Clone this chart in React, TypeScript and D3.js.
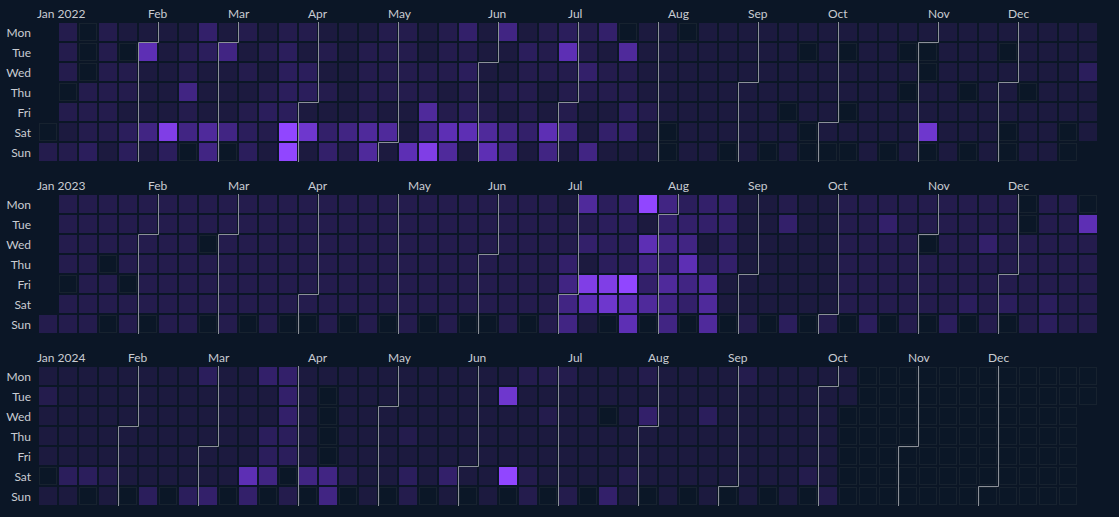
import React from "react";
import * as d3 from "d3";

// daily activity level per week (Mon..Sun), first/last week only hold days inside the year
const weeks2022 = [
  [0, 2],
  [2, 2, 2, 0, 2, 1, 2], [0, 0, 0, 2, 2, 2, 3], [2, 2, 2, 2, 2, 2, 1], [1, 0, 2, 2, 1, 3, 3],
  [1, 7, 1, 1, 1, 5, 1], [1, 1, 1, 1, 1, 9, 3], [1, 2, 2, 5, 2, 5, 0], [4, 3, 1, 1, 1, 6, 5],
  [1, 5, 1, 1, 1, 5, 0], [2, 1, 2, 1, 2, 3, 3], [1, 2, 1, 2, 3, 2, 1], [2, 3, 3, 3, 3, 10, 10],
  [2, 1, 3, 3, 1, 8, 1], [1, 2, 1, 2, 1, 4, 4], [1, 1, 1, 1, 1, 5, 2], [1, 2, 2, 2, 2, 6, 6],
  [2, 2, 2, 2, 1, 6, 1], [2, 2, 2, 2, 1, 1, 7], [1, 1, 2, 2, 6, 5, 9], [2, 2, 2, 1, 2, 7, 6],
  [4, 2, 3, 2, 3, 7, 1], [1, 1, 1, 1, 2, 6, 7], [5, 1, 1, 2, 1, 5, 5], [1, 3, 2, 2, 2, 4, 1],
  [2, 2, 2, 1, 1, 7, 5], [3, 7, 2, 2, 2, 5, 1], [2, 2, 4, 2, 1, 1, 5], [4, 1, 2, 2, 1, 4, 1],
  [0, 6, 2, 2, 3, 4, 1], [1, 1, 1, 1, 2, 1, 1], [1, 1, 1, 1, 1, 0, 0], [0, 1, 1, 1, 1, 1, 1],
  [1, 1, 1, 1, 1, 1, 1], [1, 1, 1, 1, 1, 1, 0], [1, 1, 1, 1, 1, 1, 1], [1, 1, 1, 1, 1, 1, 0],
  [1, 1, 1, 1, 0, 1, 1], [1, 0, 1, 1, 1, 0, 0], [1, 1, 1, 1, 1, 1, 0], [1, 0, 1, 1, 0, 1, 0],
  [1, 1, 1, 1, 1, 1, 1], [1, 1, 1, 1, 1, 1, 0], [1, 0, 1, 0, 1, 1, 1], [1, 0, 0, 1, 1, 8, 0],
  [1, 1, 1, 1, 1, 1, 1], [1, 1, 1, 0, 1, 1, 0], [1, 1, 1, 1, 1, 1, 1], [1, 0, 1, 1, 1, 0, 0],
  [1, 1, 1, 0, 1, 1, 1], [1, 1, 1, 1, 1, 1, 1], [1, 1, 1, 1, 1, 0, 0], [1, 1, 3, 1, 1, 1],
];

const weeks2023 = [
  [2],
  [2, 2, 2, 2, 0, 2, 2], [2, 2, 2, 2, 2, 2, 2], [2, 2, 2, 0, 2, 2, 0], [2, 2, 2, 2, 0, 2, 2],
  [2, 2, 2, 2, 2, 2, 0], [2, 2, 2, 2, 2, 2, 2], [2, 2, 2, 2, 2, 2, 2], [2, 2, 0, 2, 2, 2, 0],
  [2, 2, 2, 2, 2, 2, 2], [2, 2, 2, 2, 2, 2, 0], [2, 2, 2, 2, 2, 2, 2], [2, 2, 2, 2, 2, 2, 0],
  [2, 2, 2, 2, 2, 2, 0], [2, 2, 2, 2, 2, 2, 2], [2, 2, 2, 2, 2, 2, 0], [2, 2, 2, 2, 2, 2, 2],
  [2, 2, 2, 2, 2, 2, 0], [2, 2, 2, 2, 2, 2, 2], [2, 2, 2, 2, 2, 2, 0], [2, 2, 2, 2, 2, 2, 2],
  [2, 2, 2, 2, 2, 2, 0], [2, 2, 2, 2, 2, 2, 0], [2, 2, 2, 2, 2, 2, 2], [2, 2, 2, 2, 2, 2, 0],
  [2, 2, 2, 2, 2, 2, 2], [1, 2, 2, 4, 5, 5, 5], [6, 2, 4, 1, 9, 7, 1], [3, 3, 3, 3, 9, 8, 0],
  [4, 3, 3, 3, 10, 7, 7], [10, 1, 7, 5, 4, 6, 0], [5, 4, 5, 4, 6, 5, 5], [3, 4, 5, 7, 5, 4, 0],
  [4, 4, 1, 3, 6, 6, 6], [4, 4, 3, 4, 1, 1, 0], [1, 1, 1, 1, 1, 1, 2], [1, 1, 1, 1, 1, 1, 0],
  [2, 4, 1, 1, 1, 1, 3], [1, 1, 1, 1, 1, 1, 0], [1, 1, 1, 1, 1, 1, 2], [2, 2, 2, 2, 2, 2, 0],
  [2, 2, 2, 2, 2, 2, 3], [2, 4, 2, 2, 2, 2, 0], [2, 2, 2, 2, 2, 2, 2], [2, 2, 0, 2, 2, 2, 0],
  [2, 2, 2, 2, 2, 2, 3], [2, 2, 2, 2, 2, 3, 0], [2, 2, 4, 2, 2, 2, 2], [2, 2, 2, 2, 2, 3, 0],
  [0, 0, 2, 2, 2, 2, 2], [2, 2, 2, 2, 2, 3, 3], [2, 2, 2, 2, 2, 2, 2], [0, 7, 2, 2, 2, 2, 2],
];

// 2024 data stops on Tue Oct 8
const weeks2024 = [
  [1, 2, 1, 1, 1, 0, 1], [1, 1, 1, 1, 1, 3, 1], [1, 1, 1, 1, 1, 3, 0], [1, 1, 1, 1, 1, 2, 1],
  [1, 1, 1, 1, 1, 1, 0], [1, 1, 1, 1, 1, 1, 3], [1, 1, 1, 1, 1, 1, 0], [1, 1, 1, 1, 1, 1, 3],
  [3, 1, 1, 1, 1, 1, 4], [1, 1, 1, 1, 1, 1, 0], [1, 1, 1, 1, 1, 7, 4], [4, 1, 1, 3, 3, 5, 0],
  [4, 4, 4, 3, 3, 0, 2], [1, 1, 1, 1, 1, 5, 0], [1, 0, 0, 0, 0, 5, 5], [1, 1, 1, 1, 1, 2, 0],
  [1, 1, 1, 1, 1, 1, 1], [1, 1, 1, 1, 1, 1, 0], [1, 1, 1, 2, 1, 3, 2], [1, 1, 1, 1, 1, 1, 0],
  [1, 1, 1, 1, 1, 4, 1], [1, 1, 1, 1, 1, 1, 0], [1, 1, 1, 1, 1, 1, 1], [1, 8, 1, 1, 1, 10, 0],
  [2, 1, 1, 1, 1, 2, 2], [2, 1, 2, 1, 1, 1, 0], [2, 1, 1, 1, 1, 1, 2], [1, 1, 1, 1, 1, 1, 0],
  [1, 1, 0, 1, 1, 1, 4], [1, 1, 1, 1, 1, 2, 1], [2, 1, 4, 1, 1, 1, 0], [1, 1, 1, 1, 1, 1, 1],
  [1, 1, 1, 1, 1, 1, 0], [1, 1, 3, 1, 1, 1, 1], [1, 1, 1, 1, 1, 1, 0], [2, 1, 1, 1, 1, 1, 1],
  [1, 1, 1, 1, 1, 1, 0], [1, 1, 1, 1, 1, 1, 1], [1, 1, 1, 1, 1, 2, 0], [1, 1, 1, 1, 1, 1, 2],
  [1, 1],
];

const years = [2022, 2023, 2024];
const yearWeeks = [weeks2022, weeks2023, weeks2024];
const dayLabels = ["Mon", "Tue", "Wed", "Thu", "Fri", "Sat", "Sun"];
const monthLabels = ["Jan", "Feb", "Mar", "Apr", "May", "Jun", "Jul", "Aug", "Sep", "Oct", "Nov", "Dec"];

const width = 1119;
const height = 517;
const gridX = 38;
const firstGridY = 22;
const yearStep = 172;
const bg = "#0b1626";
const emptyFill = "#0b1727";
const emptyStroke = "#17222f";
const lineColor = "#8b9098";
const textColor = "#c9ccd2";

const x = d3.scaleBand<number>().domain(d3.range(53)).range([0, 1060]).paddingInner(0.1).paddingOuter(0.05);
const y = d3.scaleBand<number>().domain(d3.range(7)).range([0, 140]).paddingInner(0.1).paddingOuter(0.05);
const color = d3
  .scaleLinear<string>()
  .domain([1, 4, 7, 10])
  .range(["#1c1a3f", "#33206a", "#5d2fb4", "#9146ff"])
  .clamp(true);

const weekday = (d: Date) => (d.getDay() + 6) % 7;

const monthPath = (t0: Date) => {
  const yr = d3.timeYear(t0);
  const d0 = weekday(t0);
  const w0 = d3.timeMonday.count(d3.timeMonday.floor(yr), t0);
  const xa = w0 * 20 + 0.5;
  const xb = (w0 + 1) * 20 + 0.5;
  if (d0 === 0) return `M${xa},0V140`;
  return `M${xb},0V${d0 * 20 + 0.5}H${xa}V140`;
};

const YearBlock = ({ year, weeks, gy }: { year: number; weeks: number[][]; gy: number }) => {
  const values = weeks.flat();
  const start = new Date(year, 0, 1);
  const days = d3.timeDays(start, new Date(year + 1, 0, 1));
  const monday0 = d3.timeMonday.floor(start);
  const months = d3.timeMonths(start, new Date(year + 1, 0, 1));
  return (
    <g transform={`translate(${gridX},${gy})`}>
      {days.map((d, i) => {
        const v = i < values.length ? values[i] : null;
        const cx = x(d3.timeMonday.count(monday0, d))!;
        const cy = y(weekday(d))!;
        if (!v) {
          return (
            <rect
              key={i}
              x={cx + 0.5}
              y={cy + 0.5}
              width={x.bandwidth() - 1}
              height={y.bandwidth() - 1}
              fill={emptyFill}
              stroke={emptyStroke}
            />
          );
        }
        return <rect key={i} x={cx} y={cy} width={x.bandwidth()} height={y.bandwidth()} fill={color(v)} />;
      })}
      {months.slice(1).map((m, i) => (
        <path key={i} d={monthPath(m)} fill="none" stroke={lineColor} strokeWidth={1} />
      ))}
      {months.map((m, i) => {
        const w = d3.timeMonday.count(monday0, m);
        const lx = i === 0 ? -1 : w * 20 + 10;
        return (
          <text key={i} x={lx} y={-4} fill={textColor} fontSize={12}>
            {i === 0 ? `${monthLabels[i]} ${year}` : monthLabels[i]}
          </text>
        );
      })}
      {dayLabels.map((l, i) => (
        <text
          key={l}
          x={-7}
          y={y(i)! + y.bandwidth() / 2}
          textAnchor="end"
          dominantBaseline="central"
          fill={textColor}
          fontSize={12}
        >
          {l}
        </text>
      ))}
    </g>
  );
};

export default function App() {
  return (
    <div style={{ position: "fixed", left: 0, top: 0, width: "100vw", height: "100vh", background: bg }}>
      <svg width={width} height={height} style={{ display: "block", fontFamily: "Lato, sans-serif" }}>
        <rect width={width} height={height} fill={bg} />
        {years.map((yr, i) => (
          <YearBlock key={yr} year={yr} weeks={yearWeeks[i]} gy={firstGridY + i * yearStep} />
        ))}
      </svg>
    </div>
  );
}
